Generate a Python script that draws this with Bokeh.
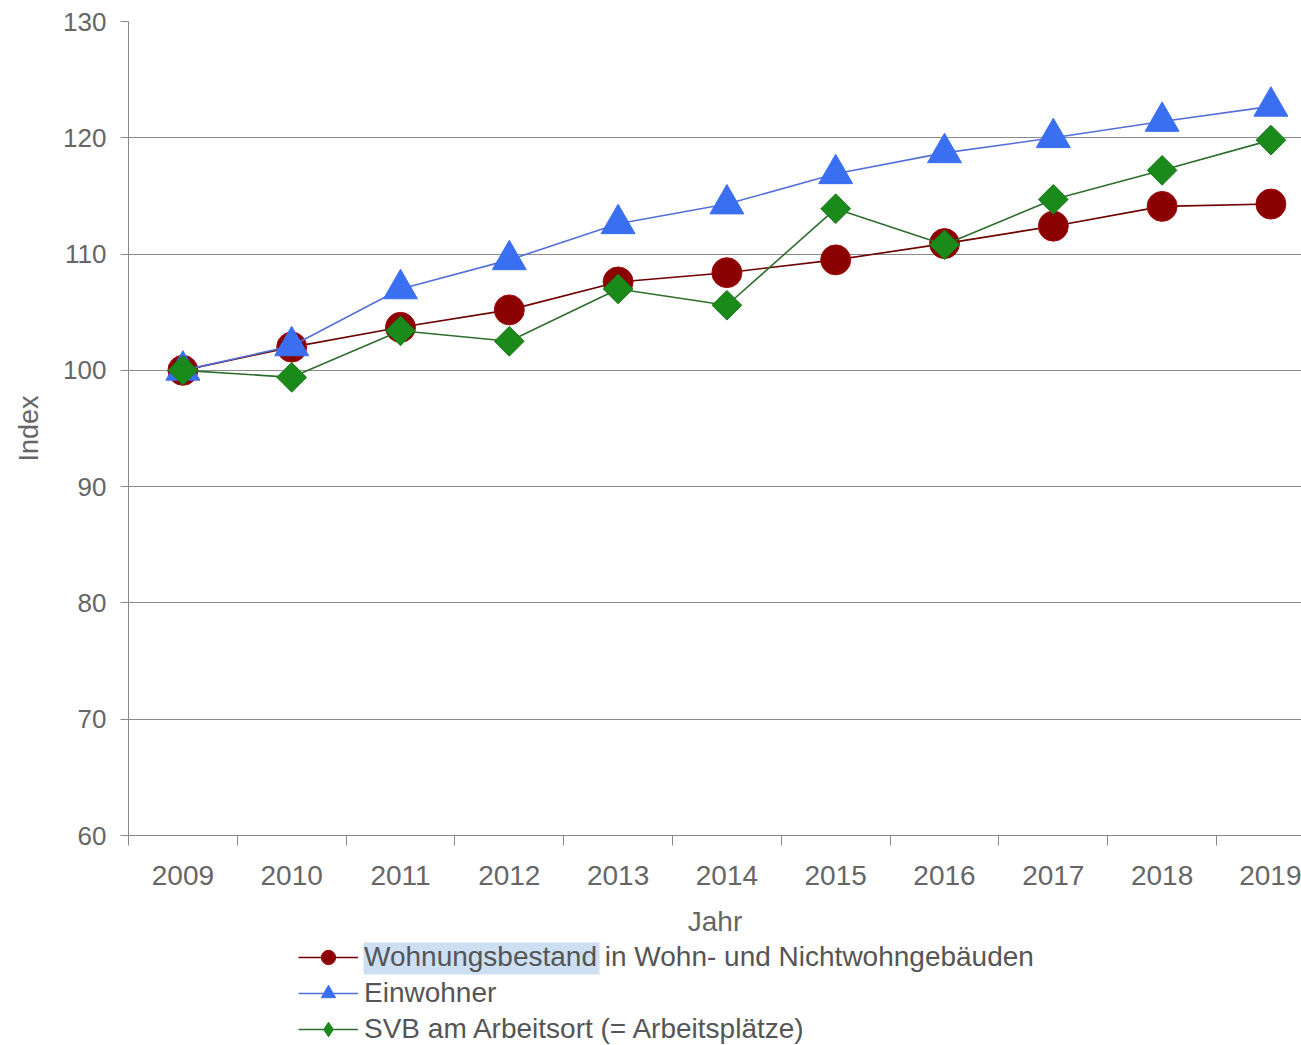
from bokeh.plotting import figure
from bokeh.models import Range1d, FixedTicker, Legend, LegendItem, BoxAnnotation
from bokeh.layouts import column
from bokeh.embed import file_html
from bokeh.resources import INLINE
import numpy as np

years = [2009, 2010, 2011, 2012, 2013, 2014, 2015, 2016, 2017, 2018, 2019]
wohnungsbestand = [100.0, 102.0, 103.7, 105.2, 107.6, 108.4, 109.5, 110.9, 112.4, 114.1, 114.3]
einwohner = [100.0, 102.1, 107.0, 109.5, 112.6, 114.3, 116.9, 118.7, 120.0, 121.4, 122.7]
svb = [100.0, 99.4, 103.4, 102.5, 107.0, 105.6, 113.9, 110.8, 114.7, 117.2, 119.8]
y_ticks = [60, 70, 80, 90, 100, 110, 120, 130]
series_names = ["Wohnungsbestand in Wohn- und Nichtwohngebäuden", "Einwohner",
                "SVB am Arbeitsort (= Arbeitsplätze)"]

FONT = "Liberation Sans"
TXT = "#666666"
FW = 1173

LINES = [dict(line_color="#6e0000", line_width=1.6),
         dict(line_color="#5470d8", line_width=1.6),
         dict(line_color="#2f6e2f", line_width=1.6)]
MARKERS = [dict(marker="circle", size=30, fill_color="#8b0000", line_color="#a01010", line_width=1),
           dict(marker="triangle", size=34, fill_color="#3b6ff2", line_color="#3b6ff2", line_width=1),
           dict(marker="square", angle=np.pi / 4, size=21, fill_color="#1a8a1a",
                line_color="#1a7a1a", line_width=1)]
LEGEND_MARKERS = [MARKERS[0], MARKERS[1],
                  dict(marker="diamond", size=21, fill_color="#1a8a1a", line_color="#1a7a1a", line_width=1)]

p = figure(frame_width=FW, frame_height=814, output_backend="svg", toolbar_location=None,
           x_range=Range1d(2008.5, 2008.5 + FW / 108.8), y_range=Range1d(60, 130),
           min_border_left=128, min_border_top=21, min_border_right=0, min_border_bottom=0,
           background_fill_color="white", border_fill_color="white")
p.outline_line_color = None

# x axis
p.xaxis.ticker = FixedTicker(ticks=years, minor_ticks=[2008.5 + i for i in range(12)])
p.xaxis.major_tick_out = 0
p.xaxis.major_tick_in = 0
p.xaxis.minor_tick_in = 0
p.xaxis.minor_tick_out = 10
p.xaxis.minor_tick_line_color = "#888888"
p.xaxis.major_label_standoff = 20
p.xaxis.axis_label = "Jahr"
p.xaxis.axis_label_standoff = 18
p.xgrid.grid_line_color = None

# y axis
p.yaxis.ticker = FixedTicker(ticks=y_ticks)
p.yaxis.major_tick_in = 0
p.yaxis.major_tick_out = 8
p.yaxis.minor_tick_line_color = None
p.yaxis.major_label_standoff = 14
p.yaxis.axis_label = "Index"
p.yaxis.axis_label_standoff = 16
p.ygrid.ticker = FixedTicker(ticks=y_ticks)
p.ygrid.grid_line_color = "#8a8a8a"
p.ygrid.grid_line_width = 1

for ax in (p.xaxis, p.yaxis):
    ax.axis_line_color = "#888888"
    ax.major_label_text_font = FONT
    ax.major_label_text_color = TXT
    ax.axis_label_text_font = FONT
    ax.axis_label_text_color = TXT
    ax.axis_label_text_font_style = "normal"
p.xaxis.major_tick_line_color = None
p.yaxis.major_tick_line_color = "#888888"
p.xaxis.major_label_text_font_size = "28px"
p.yaxis.major_label_text_font_size = "26px"
p.xaxis.axis_label_text_font_size = "28px"
p.yaxis.axis_label_text_font_size = "27px"

# series
for vals, ls, ms in zip([wohnungsbestand, einwohner, svb], LINES, MARKERS):
    p.line(years, vals, **ls)
    p.scatter(years, vals, **ms)

# legend strip below the chart (its frame is aligned with the chart frame: x 128..1301 px)
LH = 106
q = figure(frame_width=FW, frame_height=LH, output_backend="svg", toolbar_location=None,
           x_range=Range1d(128, 128 + FW), y_range=Range1d(LH, 0),
           x_axis_location=None, y_axis_location=None,
           min_border_left=128, min_border_right=0, min_border_top=0, min_border_bottom=0,
           background_fill_color="white", border_fill_color="white")
q.outline_line_color = None
q.grid.visible = False

# text-selection highlight behind "Wohnungsbestand"
q.add_layout(BoxAnnotation(left=363, right=599, top=3, bottom=35,
                           fill_color="#cddff3", fill_alpha=1, line_color=None))

items = []
for name, ls, ms in zip(series_names, LINES, LEGEND_MARKERS):
    lr = q.line([np.nan], [np.nan], **ls)
    mr = q.scatter([np.nan], [np.nan], **ms)
    items.append(LegendItem(label=name, renderers=[lr, mr]))

legend = Legend(items=items, orientation="vertical", location=(170, -2),
                glyph_width=60, glyph_height=36, label_height=36, label_standoff=6,
                spacing=0, padding=0, margin=0,
                label_text_font=FONT, label_text_font_size="28px", label_text_color="#555555",
                border_line_color=None, background_fill_alpha=0)
q.add_layout(legend, "center")

open("out.html", "w").write(file_html(column(p, q, spacing=0), INLINE))
